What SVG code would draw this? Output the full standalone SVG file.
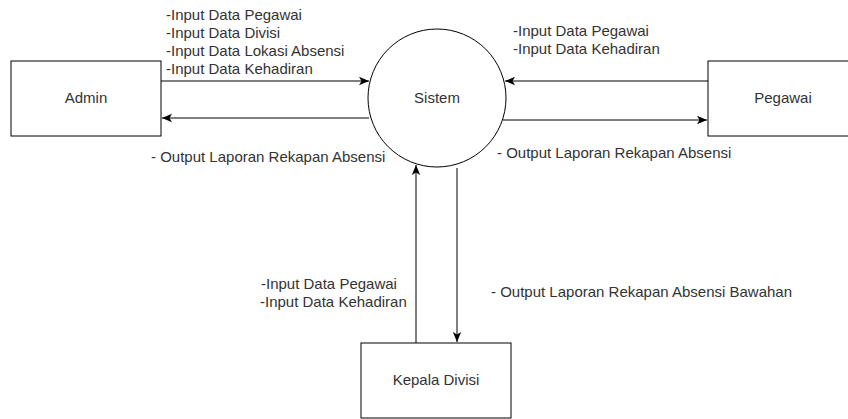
<svg xmlns="http://www.w3.org/2000/svg" width="848" height="419" viewBox="0 0 848 419">
<style>
.box{fill:#fff;stroke:#000;stroke-width:1}
.ln{fill:none;stroke:#000;stroke-width:1}
text{font-family:"Liberation Sans",Arial,sans-serif;font-size:15px;fill:#333}
.c{text-anchor:middle}
</style>
<defs>
<marker id="arr" viewBox="0 0 10 10" refX="10" refY="5" markerWidth="10" markerHeight="10" markerUnits="userSpaceOnUse" orient="auto">
<path d="M0,0.8 L10,5 L0,9.2 L2.5,5 Z" fill="#000"/>
</marker>
</defs>
<rect width="848" height="419" fill="#fff"/>
<g id="connectors">
<line class="ln" x1="161" y1="81" x2="369" y2="81" marker-end="url(#arr)"/>
<line class="ln" x1="369" y1="118" x2="162" y2="118" marker-end="url(#arr)"/>
<line class="ln" x1="708" y1="81" x2="505" y2="81" marker-end="url(#arr)"/>
<line class="ln" x1="503" y1="120" x2="707" y2="120" marker-end="url(#arr)"/>
<line class="ln" x1="416" y1="343" x2="416" y2="165" marker-end="url(#arr)"/>
<line class="ln" x1="457" y1="168" x2="457" y2="342" marker-end="url(#arr)"/>
<text x="166" y="20">-Input Data Pegawai</text>
<text x="166" y="38">-Input Data Divisi</text>
<text x="166" y="56">-Input Data Lokasi Absensi</text>
<text x="166" y="74">-Input Data Kehadiran</text>
<text x="151" y="162">- Output Laporan Rekapan Absensi</text>
<text x="513" y="36">-Input Data Pegawai</text>
<text x="513" y="54">-Input Data Kehadiran</text>
<text x="497" y="158">- Output Laporan Rekapan Absensi</text>
<text x="261" y="289">-Input Data Pegawai</text>
<text x="260" y="307">-Input Data Kehadiran</text>
<text x="491" y="297">- Output Laporan Rekapan Absensi Bawahan</text>
</g>
<g id="admin">
<rect class="box" x="11" y="61" width="150" height="75"/>
<text class="c" x="86" y="103">Admin</text>
</g>
<g id="sistem">
<circle class="box" cx="437" cy="98" r="69"/>
<text class="c" x="437" y="103">Sistem</text>
</g>
<g id="pegawai">
<rect class="box" x="708" y="61" width="150" height="75"/>
<text class="c" x="783" y="103">Pegawai</text>
</g>
<g id="kepala-divisi">
<rect class="box" x="361" y="343" width="150" height="75"/>
<text class="c" x="436" y="385">Kepala Divisi</text>
</g>
</svg>
